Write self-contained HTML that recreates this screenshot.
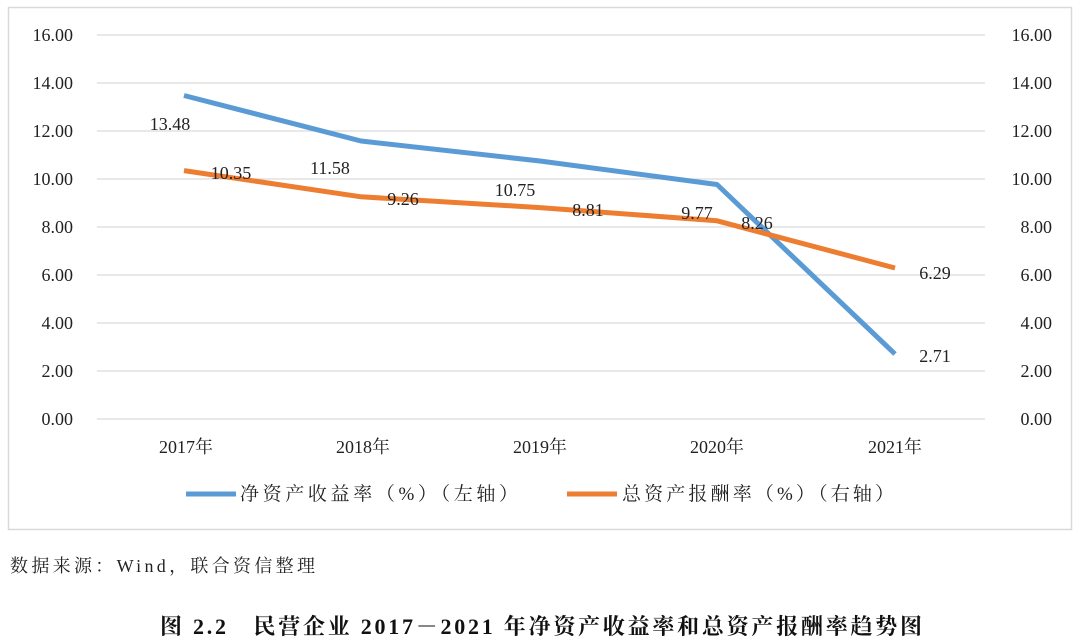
<!DOCTYPE html><html><head><meta charset="utf-8"><style>body{margin:0;background:#fff}svg{display:block}</style></head><body>
<svg width="1080" height="644" xmlns="http://www.w3.org/2000/svg" font-family="'Liberation Serif','Noto Serif CJK SC',serif">
<rect x="8.5" y="7.5" width="1063" height="522" fill="#fff" stroke="#d9d9d9" stroke-width="1.5"/>
<g stroke="#d9d9d9" stroke-width="1.3">
<line x1="97" x2="985" y1="35" y2="35"/><line x1="97" x2="985" y1="83" y2="83"/><line x1="97" x2="985" y1="131" y2="131"/><line x1="97" x2="985" y1="179" y2="179"/><line x1="97" x2="985" y1="227" y2="227"/><line x1="97" x2="985" y1="275" y2="275"/><line x1="97" x2="985" y1="323" y2="323"/><line x1="97" x2="985" y1="371" y2="371"/><line x1="97" x2="985" y1="419" y2="419"/></g>
<g font-size="18" fill="#222" text-anchor="end">
<text x="73" y="41">16.00</text><text x="73" y="89">14.00</text><text x="73" y="137">12.00</text><text x="73" y="185">10.00</text><text x="73" y="233">8.00</text><text x="73" y="281">6.00</text><text x="73" y="329">4.00</text><text x="73" y="377">2.00</text><text x="73" y="425">0.00</text></g>
<g font-size="18" fill="#222" text-anchor="end">
<text x="1052" y="41">16.00</text><text x="1052" y="89">14.00</text><text x="1052" y="137">12.00</text><text x="1052" y="185">10.00</text><text x="1052" y="233">8.00</text><text x="1052" y="281">6.00</text><text x="1052" y="329">4.00</text><text x="1052" y="377">2.00</text><text x="1052" y="425">0.00</text></g>
<g font-size="18" fill="#222" text-anchor="middle">
<text x="186" y="453">2017年</text><text x="363" y="453">2018年</text><text x="540" y="453">2019年</text><text x="717" y="453">2020年</text><text x="895" y="453">2021年</text></g>
<polyline points="184,95.5 361,141 540,161 717,184.5 895,354" fill="none" stroke="#5b9bd5" stroke-width="5" stroke-linejoin="round"/>
<polyline points="184,170.6 361,196.8 540,207.6 717,220.8 895,268" fill="none" stroke="#ed7d31" stroke-width="5" stroke-linejoin="round"/>
<g font-size="18" fill="#222" text-anchor="middle">
<text x="170" y="130">13.48</text><text x="330" y="174">11.58</text><text x="515" y="196">10.75</text><text x="697" y="219">9.77</text><text x="935" y="362">2.71</text>
<text x="231" y="179">10.35</text><text x="403" y="205">9.26</text><text x="588" y="216">8.81</text><text x="757" y="229">8.26</text><text x="935" y="279">6.29</text></g>
<line x1="186" x2="236" y1="494" y2="494" stroke="#5b9bd5" stroke-width="5"/>
<text x="240" y="500" font-size="19" fill="#222" textLength="278" lengthAdjust="spacing">净资产收益率（%）（左轴）</text>
<line x1="567" x2="617" y1="494" y2="494" stroke="#ed7d31" stroke-width="5"/>
<text x="622" y="500" font-size="19" fill="#222" textLength="272" lengthAdjust="spacing">总资产报酬率（%）（右轴）</text>
<text x="10" y="572" font-size="18" fill="#222" textLength="305" lengthAdjust="spacing">数据来源：Wind，联合资信整理</text>
<text x="160" y="634" font-size="22" font-weight="bold" fill="#111" textLength="762" lengthAdjust="spacing">图 2.2　民营企业 2017－2021 年净资产收益率和总资产报酬率趋势图</text>
</svg></body></html>
